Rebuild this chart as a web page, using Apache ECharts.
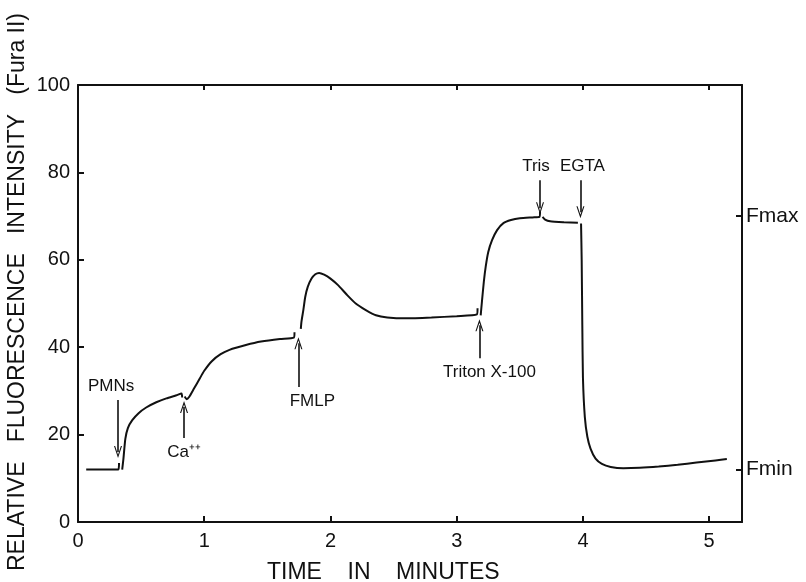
<!DOCTYPE html>
<html>
<head>
<meta charset="utf-8">
<title>Fura II fluorescence trace</title>
<script src="https://cdn.jsdelivr.net/npm/echarts@6/dist/echarts.min.js"></script>
<style>
  html, body { margin: 0; padding: 0; background: #fff; }
  #chart { width: 806px; height: 582px; }
</style>
</head>
<body>
<div id="chart"></div>
<script>
// Fluorescence trace (minutes, relative intensity); null marks a pen lift at an addition
const traceTime = [
  0.065, 0.32, 0.325, null,
  0.35, 0.36, 0.375, 0.395, 0.43, 0.48, 0.54, 0.62, 0.70, 0.78, 0.82, 0.825, null,
  0.845, 0.86, 0.88, 0.92, 0.96, 1.0, 1.06, 1.13, 1.2, 1.33, 1.45, 1.6, 1.71, 1.715, null,
  1.765, 1.77, 1.785, 1.8, 1.82, 1.85, 1.88, 1.91, 1.95, 2.0, 2.06, 2.13, 2.2, 2.28, 2.36, 2.45, 2.6, 2.8, 3.0, 3.16, 3.165, null,
  3.19, 3.2, 3.215, 3.23, 3.25, 3.28, 3.32, 3.37, 3.43, 3.5, 3.6, 3.655, 3.66, null,
  3.68, 3.7, 3.74, 3.85, 3.96, null,
  3.985, 3.99, 3.995, 4.0, 4.015, 4.035, 4.06, 4.1, 4.15, 4.22, 4.32, 4.45, 4.6, 4.75, 4.9, 5.05, 5.14
];
const traceSignal = [
  12.0, 12.0, 13.5, null,
  12.0, 14.5, 19.0, 21.5, 23.3, 24.9, 26.2, 27.4, 28.3, 29.0, 29.4, 28.5, null,
  28.7, 28.1, 28.6, 30.6, 32.6, 34.6, 36.8, 38.4, 39.4, 40.5, 41.3, 41.9, 42.2, 43.4, null,
  44.2, 45.8, 48.5, 51.5, 53.8, 55.7, 56.7, 57.0, 56.6, 55.7, 54.2, 52.0, 50.0, 48.5, 47.3, 46.8, 46.6, 46.8, 47.1, 47.5, 48.9, null,
  47.3, 50.5, 55.0, 58.5, 61.8, 64.5, 66.8, 68.4, 69.1, 69.5, 69.7, 69.8, 71.0, null,
  69.8, 69.2, 68.8, 68.6, 68.5, null,
  68.3, 60.0, 45.0, 33.0, 24.0, 19.5, 16.8, 14.5, 13.3, 12.6, 12.3, 12.4, 12.7, 13.1, 13.6, 14.1, 14.4
];

// Additions: label, time of addition, arrow tail and arrow tip (intensity units)
const eventLabels = ['PMNs', 'Ca⁺⁺', 'FMLP', 'Triton X-100', 'Tris', 'EGTA'];
const eventTime   = [0.317, 0.84, 1.746, 3.18, 3.66, 3.98];
const arrowTail   = [27.9, 19.2, 30.9, 37.5, 78.2, 78.2];
const arrowTip    = [16.0, 26.3, 40.9, 45.0, 71.8, 70.9];

// Axis ticks
const timeTicks = [0, 1, 2, 3, 4, 5];
const intensityTicks = [0, 20, 40, 60, 80, 100];
const calibrationValues = [12, 70];
const calibrationLabels = ['Fmin', 'Fmax'];

const FONT = 'Liberation Sans';
const INK = '#111';

// Horizontal nudges (px) for annotation text relative to its arrow
const labelShift = { 'PMNs': -7, 'FMLP': 14, 'Triton X-100': 10, 'Tris': -4, 'EGTA': 2 };

const traceData = traceTime.map((t, i) =>
  (t === null || traceSignal[i] === null) ? ['-', '-'] : [t, traceSignal[i]]);

const chevron = 'path://M5,0 L10,13 L8.6,13 L5,3.6 L1.4,13 L0,13 Z';

const eventLines = eventLabels.map((name, i) => {
  const up = arrowTip[i] > arrowTail[i];
  const shift = labelShift[name] || 0;
  const pad = shift >= 0 ? [0, 0, 0, 2 * shift] : [0, -2 * shift, 0, 0];
  return [
    {
      name: name,
      coord: [eventTime[i], arrowTail[i]],
      label: {
        show: true,
        position: 'start',
        distance: up ? 6 : 5,
        formatter: '{b}',
        color: INK,
        fontFamily: FONT,
        fontSize: 17,
        padding: pad
      }
    },
    { coord: [eventTime[i], arrowTip[i]] }
  ];
});

const chart = echarts.init(document.getElementById('chart'), null, { renderer: 'canvas' });

const axisLineStyle = { color: INK, width: 2 };

chart.setOption({
  animation: false,
  backgroundColor: '#fff',
  title: {
    text: 'TIME    IN    MINUTES',
    left: 262,
    top: 556,
    textStyle: { fontFamily: FONT, fontSize: 23, fontWeight: 'normal', color: INK }
  },
  graphic: [{
    type: 'text',
    x: 18,
    y: 292,
    rotation: Math.PI / 2,
    style: {
      text: 'RELATIVE   FLUORESCENCE   INTENSITY   (Fura II)',
      font: '23px "' + FONT + '"',
      fill: INK,
      align: 'center',
      verticalAlign: 'middle'
    }
  }],
  grid: { left: 78, right: 64, top: 85, bottom: 60, containLabel: false },
  xAxis: [
    {
      type: 'value',
      position: 'bottom',
      min: timeTicks[0],
      max: 5.26,
      interval: 1,
      axisLine: { show: true, onZero: false, lineStyle: axisLineStyle },
      axisTick: { show: true, inside: true, length: 6, lineStyle: { color: INK, width: 2 } },
      axisLabel: {
        color: INK, fontFamily: FONT, fontSize: 20, margin: 9,
        showMaxLabel: false,
        formatter: v => (timeTicks.indexOf(v) >= 0 ? String(v) : '')
      },
      splitLine: { show: false }
    },
    {
      type: 'value',
      position: 'top',
      min: timeTicks[0],
      max: 5.26,
      interval: 1,
      axisLine: { show: true, onZero: false, lineStyle: axisLineStyle },
      axisTick: { show: true, inside: true, length: 5, lineStyle: { color: INK, width: 2 } },
      axisLabel: { show: false },
      splitLine: { show: false }
    }
  ],
  yAxis: [
    {
      type: 'value',
      position: 'left',
      min: intensityTicks[0],
      max: intensityTicks[intensityTicks.length - 1],
      interval: 20,
      axisLine: { show: true, onZero: false, lineStyle: axisLineStyle },
      axisTick: { show: true, inside: true, length: 6, lineStyle: { color: INK, width: 2 } },
      axisLabel: { color: INK, fontFamily: FONT, fontSize: 20, margin: 8 },
      splitLine: { show: false }
    },
    {
      type: 'value',
      position: 'right',
      min: intensityTicks[0],
      max: intensityTicks[intensityTicks.length - 1],
      axisLine: { show: true, onZero: false, lineStyle: axisLineStyle },
      axisTick: {
        show: true, inside: true, length: 6,
        customValues: calibrationValues,
        lineStyle: { color: INK, width: 2 }
      },
      axisLabel: {
        color: INK, fontFamily: FONT, fontSize: 21, margin: 4,
        customValues: calibrationValues,
        formatter: v => calibrationLabels[calibrationValues.indexOf(v)] || ''
      },
      splitLine: { show: false }
    }
  ],
  series: [{
    type: 'line',
    xAxisIndex: 0,
    yAxisIndex: 0,
    data: traceData,
    showSymbol: false,
    symbol: 'none',
    smooth: 0.2,
    connectNulls: false,
    lineStyle: { color: INK, width: 2 },
    markLine: {
      silent: true,
      symbol: ['none', chevron],
      symbolSize: [8, 12],
      lineStyle: { color: INK, width: 1.6, type: 'solid' },
      emphasis: { disabled: true },
      data: eventLines
    }
  }]
});
</script>
</body>
</html>
